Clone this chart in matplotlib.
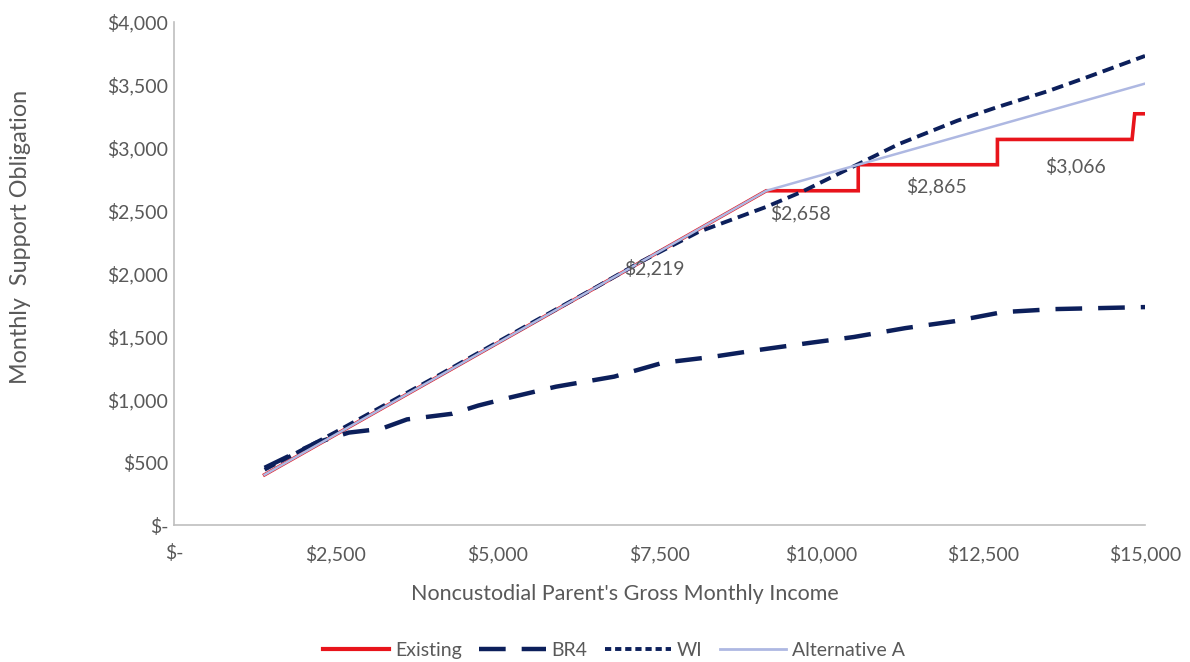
import matplotlib
matplotlib.use("Agg")
import matplotlib.pyplot as plt
from matplotlib.lines import Line2D

plt.rcParams["font.family"] = ["Lato", "DejaVu Sans"]

# Existing guideline (step schedule at the top end)
existing_income = [1400, 7650, 9150, 10570, 10570, 12720, 12720, 14800, 14840, 15000]
existing_amount = [400, 2219, 2658, 2658, 2865, 2865, 3066, 3066, 3270, 3270]

# BR4
br4_income = [1400, 1700, 2200, 2700, 3200, 3600, 4300, 4700, 5200, 5900, 6800,
              7550, 8300, 9000, 9800, 10500, 11300, 12050, 12800, 13600, 14300, 15000]
br4_amount = [455, 530, 655, 735, 765, 840, 885, 950, 1015, 1100, 1180,
              1290, 1336, 1390, 1447, 1495, 1566, 1620, 1693, 1717, 1725, 1733]

# WI
wi_income = [1400, 2500, 4000, 5500, 6500, 7200, 8100, 9150, 9700, 10550,
             11200, 12100, 12700, 13500, 14100, 15000]
wi_amount = [440, 740, 1165, 1600, 1885, 2090, 2330, 2530, 2650, 2865,
             3030, 3215, 3320, 3450, 3560, 3730]

# Alternative A
alt_income = [1400, 7650, 9150, 10570, 15000]
alt_amount = [400, 2219, 2658, 2865, 3510]

# Labelled Existing values: (income, amount, text offset in pixels)
label_income = [7650, 9860, 11645, 13760]
label_amount = [2219, 2658, 2865, 3066]
label_offset = [(-15, -22), (-12, -22), (9, -21), (11, -27)]

x_ticks = [0, 2500, 5000, 7500, 10000, 12500, 15000]
x_tick_labels = ["$-", "$2,500", "$5,000", "$7,500", "$10,000", "$12,500", "$15,000"]
y_ticks = [0, 500, 1000, 1500, 2000, 2500, 3000, 3500, 4000]
y_tick_labels = ["$-", "$500", "$1,000", "$1,500", "$2,000", "$2,500", "$3,000", "$3,500", "$4,000"]

RED = "#E8141B"
NAVY = "#0C1F5B"
LAV = "#AEB8E2"
GREY = "#595959"

BR4_DASH = (6.0, 3.6)
WI_DASH = (3.0, 1.6)

fig = plt.figure(figsize=(11.9, 6.62), dpi=100)
ax = fig.add_axes([0.1462, 0.2069, 0.8160, 0.7599])

ax.plot(existing_income, existing_amount, color=RED, lw=2.6, solid_joinstyle="miter",
        label="Existing", zorder=3)
ax.plot(br4_income, br4_amount, color=NAVY, lw=3.2, dashes=BR4_DASH,
        dash_capstyle="butt", label="BR4", zorder=4)
ax.plot(wi_income, wi_amount, color=NAVY, lw=2.8, dashes=WI_DASH,
        dash_capstyle="butt", label="WI", zorder=4)
ax.plot(alt_income, alt_amount, color=LAV, lw=1.8, label="Alternative A", zorder=5)

for xi, yi, off in zip(label_income, label_amount, label_offset):
    ax.annotate(f"${yi:,}", (xi, yi), xytext=off, textcoords="offset pixels",
                ha="center", va="center", fontsize=14, color=GREY, zorder=6)

ax.set_xlim(0, 15000)
ax.set_ylim(0, 4000)
ax.set_xticks(x_ticks)
ax.set_xticklabels(x_tick_labels)
ax.set_yticks(y_ticks)
ax.set_yticklabels(y_tick_labels)
ax.tick_params(length=0, labelsize=14, labelcolor=GREY)
ax.tick_params(axis="y", pad=4)
ax.tick_params(axis="x", pad=14)

for side in ("top", "right"):
    ax.spines[side].set_visible(False)
for side in ("left", "bottom"):
    ax.spines[side].set_color("#BFBFBF")
    ax.spines[side].set_linewidth(1.2)

ax.set_xlabel("Noncustodial Parent's Gross Monthly Income", fontsize=15.5, color=GREY)
ax.set_ylabel("Monthly  Support Obligation", fontsize=16.8, color=GREY)
ax.xaxis.set_label_coords(0.464, -0.117)
ax.yaxis.set_label_coords(-0.147, 0.572)

handles = [
    Line2D([], [], color=RED, lw=3),
    Line2D([], [], color=NAVY, lw=3.2, dashes=BR4_DASH),
    Line2D([], [], color=NAVY, lw=2.8, dashes=(1.6, 1.0)),
    Line2D([], [], color=LAV, lw=2),
]
fig.legend(handles, ["Existing", "BR4", "WI", "Alternative A"], loc="center",
           bbox_to_anchor=(0.516, 0.018), ncol=4, frameon=False, fontsize=14,
           labelcolor=GREY, handlelength=3.4, handletextpad=0.3, columnspacing=0.9)

fig.savefig("out.png", dpi=100)
